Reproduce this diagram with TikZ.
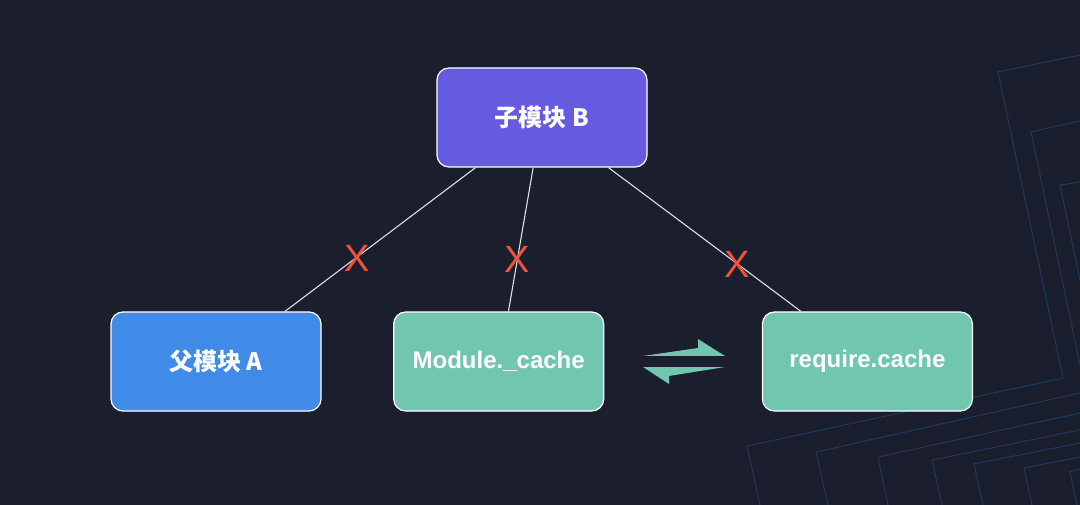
\documentclass[tikz,border=0pt]{standalone}
\usepackage{fontspec}
\setmainfont{Liberation Sans}
\newfontfamily\cjk{Noto Sans CJK SC}
\usetikzlibrary{positioning}
\definecolor{bgnavy}{RGB}{27,31,45}
\definecolor{purplebox}{RGB}{101,90,224}
\definecolor{bluebox}{RGB}{64,138,232}
\definecolor{tealbox}{RGB}{113,198,176}
\definecolor{crossred}{RGB}{236,84,60}
\definecolor{linkgrey}{RGB}{222,224,230}
\definecolor{decoblue}{RGB}{30,60,96}

\begin{document}
\begin{tikzpicture}[x=1pt, y=-1pt, node distance={71.5pt},
    box/.style = {draw=white, line width=1.2pt, rounded corners=12pt, minimum width=210pt, minimum height=99pt, text=white, font=\bfseries\fontsize{24}{28}\selectfont},
    link/.style = {draw=linkgrey, line width=1.1pt},
    cross/.style = {text=crossred, inner sep=0pt, font=\fontsize{38}{40}\selectfont},
    deco/.style = {draw=decoblue, line width=0.9pt}]
    \fill[bgnavy] (0,0) rectangle (1080,505);
    % background pattern
    \begin{scope}
        \clip (0,0) rectangle (1080,505);
        \draw[deco] (1080,55) -- (998,72) -- (1063,378) -- (747,446) -- (760,505);
        \draw[deco] (1080,121) -- (1031,132) -- (1080,365);
        \draw[deco] (1080,182) -- (1060,185) -- (1080,280);
        \draw[deco] (1080,393) -- (816,452) -- (828,505);
        \draw[deco] (1080,413) -- (878,457) -- (888,505);
        \draw[deco] (1080,430) -- (932,460) -- (942,505);
        \draw[deco] (1080,443) -- (974,464) -- (983,505);
        \draw[deco] (1080,457) -- (1024,468) -- (1032,505);
        \draw[deco] (1080,469) -- (1070,472) -- (1077,505);
    \end{scope}
    \node[box, fill=purplebox] (B) at (542,117.5) {\cjk 子模块 B};
    \node[box, fill=bluebox] (A) at (216,361.5) {\cjk 父模块 A};
    \node[box, fill=tealbox] (M) [right=of A] {Module.\_cache};
    \node[box, fill=tealbox] (R) [right=157.5pt of M] {require.cache};
    \path[link] (B.217) -- node[cross, pos=0.63, xshift=2pt] {X} (A.36);
    \path[link] (B.260) -- node[cross, pos=0.64] {X} (M.79);
    \path[link] (B.323) -- node[cross, pos=0.67] {X} (R.143);
    % exchange arrows
    \fill[tealbox] (643,356) -- (698,348) -- (698,339) -- (725,356) -- cycle;
    \fill[tealbox] (643,367) -- (725,367) -- (669,376) -- (669,384) -- cycle;
\end{tikzpicture}
\end{document}
